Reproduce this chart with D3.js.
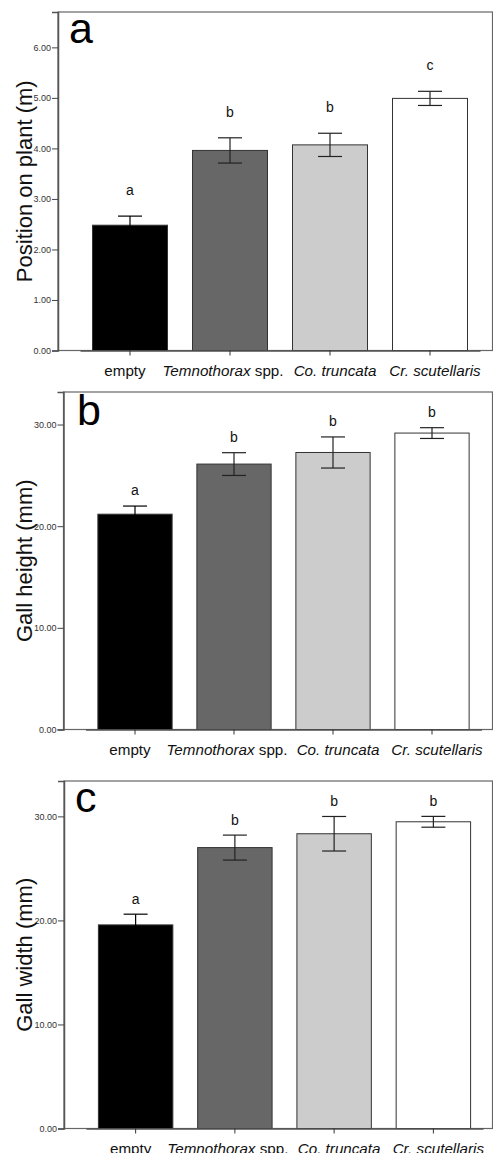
<!DOCTYPE html>
<html>
<head>
<meta charset="utf-8">
<script src="https://cdn.jsdelivr.net/npm/d3@7"></script>
<style>
  body { margin: 0; background: #fff; }
  svg { display: block; font-family: "Liberation Sans", Arial, sans-serif; }
</style>
</head>
<body>
<div id="chart"></div>
<script>
// Groups on the x axis (italic part, plain part)
const categories = ["empty", "Temnothorax spp.", "Co. truncata", "Cr. scutellaris"];
const categoryItalic = ["", "Temnothorax", "Co. truncata", "Cr. scutellaris"];
const categoryPlain = ["empty", "\u00a0spp.", "", ""];

// Panel a: position on plant (m)
const positionMean = [2.48, 3.96, 4.07, 4.99];
const positionSE = [0.18, 0.25, 0.23, 0.14];
const positionLetters = ["a", "b", "b", "c"];
const positionTicks = [0, 1, 2, 3, 4, 5, 6];

// Panel b: gall height (mm)
const heightMean = [21.18, 26.11, 27.25, 29.16];
const heightSE = [0.8, 1.12, 1.53, 0.53];
const heightLetters = ["a", "b", "b", "b"];
const heightTicks = [0, 10, 20, 30];

// Panel c: gall width (mm)
const widthMean = [19.57, 27.0, 28.33, 29.48];
const widthSE = [1.03, 1.2, 1.66, 0.52];
const widthLetters = ["a", "b", "b", "b"];
const widthTicks = [0, 10, 20, 30];

const barColors = ["#000000", "#676767", "#cccccc", "#ffffff"];
// small horizontal nudges of the x labels, as in the original layout
const labelShift = [-5, -7, 5, 5];

const W = 493, H = 1153;
const svg = d3.select("#chart").append("svg")
  .attr("width", W).attr("height", H);

const panels = [
  { tag: "a", title: "Position on plant (m)", mean: positionMean, se: positionSE, letters: positionLetters,
    ticks: positionTicks, max: 6.7, left: 58, top: 12, bottom: 350.5, x0: 80, x1: 480, gap: 26, tagY: 43, tagX: 69 },
  { tag: "b", title: "Gall height (mm)", mean: heightMean, se: heightSE, letters: heightLetters,
    ticks: heightTicks, max: 33.2, left: 63.5, top: 392, bottom: 729.5, x0: 85.5, x1: 481.5, gap: 16, tagY: 425, tagX: 77 },
  { tag: "c", title: "Gall width (mm)", mean: widthMean, se: widthSE, letters: widthLetters,
    ticks: widthTicks, max: 33.4, left: 64, top: 781, bottom: 1128.5, x0: 86, x1: 483, gap: 15, tagY: 812, tagX: 75 }
];

panels.forEach(p => {
  const g = svg.append("g");
  const x = d3.scaleBand().domain(categories).range([p.x0, p.x1])
    .paddingInner(0.25).paddingOuter(0.125);
  const y = d3.scaleLinear().domain([0, p.max]).range([p.bottom, p.top]);
  const rows = categories.map((c, i) => ({ c, i, m: p.mean[i], se: p.se[i], L: p.letters[i] }));

  // frame
  g.append("rect")
    .attr("x", p.left).attr("y", p.top)
    .attr("width", 492.5 - p.left).attr("height", p.bottom - p.top)
    .attr("fill", "none").attr("stroke", "#666").attr("stroke-width", 1.2);

  // bars
  g.selectAll("rect.bar").data(rows).enter().append("rect")
    .attr("class", "bar")
    .attr("x", d => x(d.c))
    .attr("y", d => y(d.m))
    .attr("width", x.bandwidth())
    .attr("height", d => y(0) - y(d.m))
    .attr("fill", d => barColors[d.i])
    .attr("stroke", "#333").attr("stroke-width", 1);

  // error bars
  const cx = d => x(d.c) + x.bandwidth() / 2;
  const eb = g.selectAll("g.err").data(rows).enter().append("g").attr("class", "err")
    .attr("stroke", d => d.i === 0 ? "#000" : "#222").attr("stroke-width", 1.2);
  eb.append("line").attr("x1", cx).attr("x2", cx)
    .attr("y1", d => y(d.m - d.se)).attr("y2", d => y(d.m + d.se));
  eb.append("line").attr("x1", d => cx(d) - 12).attr("x2", d => cx(d) + 12)
    .attr("y1", d => y(d.m + d.se)).attr("y2", d => y(d.m + d.se));
  eb.append("line").attr("x1", d => cx(d) - 12).attr("x2", d => cx(d) + 12)
    .attr("y1", d => y(d.m - d.se)).attr("y2", d => y(d.m - d.se));

  // significance letters
  g.selectAll("text.sig").data(rows).enter().append("text")
    .attr("class", "sig")
    .attr("x", cx)
    .attr("y", d => y(d.m + d.se) - p.gap)
    .attr("dy", "0.35em")
    .attr("text-anchor", "middle")
    .attr("font-size", 14).attr("fill", "#111")
    .text(d => d.L);

  // y axis
  const ya = g.append("g").attr("transform", `translate(${p.left},0)`)
    .call(d3.axisLeft(y).tickValues(p.ticks).tickFormat(d3.format(".2f")).tickSize(6).tickPadding(1));
  ya.select(".domain").attr("stroke", "#555").attr("stroke-width", 1.5);
  ya.selectAll(".tick line").attr("stroke", "#444");
  ya.selectAll(".tick text").attr("font-size", 9).attr("fill", "#333")
    .attr("font-family", "'Liberation Sans', Arial, sans-serif");

  // x axis
  const xa = g.append("g").attr("transform", `translate(0,${p.bottom})`)
    .call(d3.axisBottom(x).tickSize(5).tickSizeOuter(0).tickFormat(""));
  xa.select(".domain").attr("stroke", "#555").attr("stroke-width", 1.5);
  xa.selectAll(".tick line").attr("stroke", "#333");

  const lab = g.selectAll("text.xl").data(rows).enter().append("text")
    .attr("class", "xl")
    .attr("x", d => cx(d) + labelShift[d.i])
    .attr("y", p.bottom + 20)
    .attr("dy", "0.35em")
    .attr("text-anchor", "middle")
    .attr("font-size", 15.2).attr("fill", "#111");
  lab.append("tspan").attr("font-style", "italic").text(d => categoryItalic[d.i]);
  lab.append("tspan").text(d => categoryPlain[d.i]);

  // y title
  g.append("text")
    .attr("transform", `translate(32,${(p.top + p.bottom) / 2}) rotate(-90)`)
    .attr("text-anchor", "middle")
    .attr("font-size", 22).attr("fill", "#111")
    .text(p.title);

  // panel tag
  g.append("text")
    .attr("x", p.tagX).attr("y", p.tagY)
    .attr("font-size", 43).attr("fill", "#000")
    .text(p.tag);
});
</script>
</body>
</html>
